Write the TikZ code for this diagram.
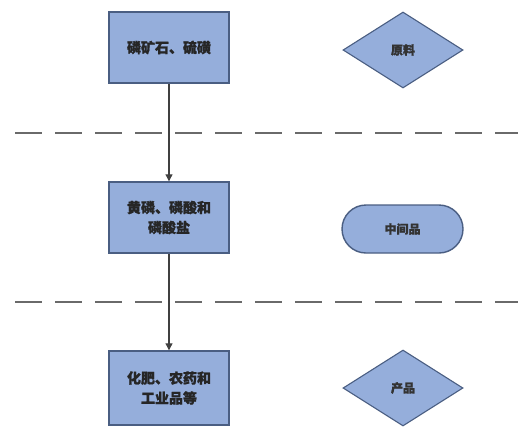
\documentclass[tikz,border=0pt]{standalone}
\usepackage{fontspec}
\newfontfamily\cjk[FakeBold=1.2]{Noto Sans CJK SC}
\usetikzlibrary{shapes.geometric,shapes.misc,arrows.meta}
\definecolor{boxfill}{HTML}{95AEDB}
\definecolor{boxedge}{HTML}{4A5E82}
\definecolor{dashgray}{HTML}{6A6A6A}
\tikzset{
  x=1pt,y=-1pt,
  procbox/.style={draw=boxedge,line width=1.4pt,fill=boxfill,minimum width=120pt,minimum height=71pt,inner sep=2pt,align=center,font=\cjk\bfseries\fontsize{14}{20}\selectfont,text=black!85},
  dia/.style={diamond,draw=boxedge,line width=1.1pt,fill=boxfill,minimum width=120pt,minimum height=76pt,aspect=1.6,inner sep=0pt,font=\cjk\bfseries\fontsize{12}{14}\selectfont,text=black!80},
  pill/.style={rounded rectangle,draw=boxedge,line width=1.4pt,fill=boxfill,minimum width=121pt,minimum height=48pt,inner sep=0pt,font=\cjk\bfseries\fontsize{12}{14}\selectfont,text=black!80},
  sep/.style={draw=dashgray,line width=2pt,dash pattern=on 27pt off 13pt},
  flow/.style={draw=black!75,line width=1.1pt,-{Triangle[length=7pt,width=7pt]}}
}
\begin{document}
\begin{tikzpicture}
\useasboundingbox[fill=white] (0,0) rectangle (518,426);
\node[procbox] (b1) at (169,47.5) {磷矿石、硫磺};
\node[procbox] (b2) at (169,217.5) {黄磷、磷酸和\\磷酸盐};
\node[procbox,minimum height=74pt] (b3) at (169,388) {化肥、农药和\\工业品等};
\node[dia] (d1) at (403,50) {原料};
\node[pill] (p2) at (402.5,229) {中间品};
\node[dia] (d3) at (403,388) {产品};
\coordinate (l1a) at (15,133);
\coordinate (l1b) at (518,133);
\coordinate (l2a) at (15,302);
\coordinate (l2b) at (518,302);
\draw[sep] (l1a) -- (l1b);
\draw[sep] (l2a) -- (l2b);
\draw[flow] (b1) -- (b2);
\draw[flow] (b2) -- (b3);
\end{tikzpicture}
\end{document}
